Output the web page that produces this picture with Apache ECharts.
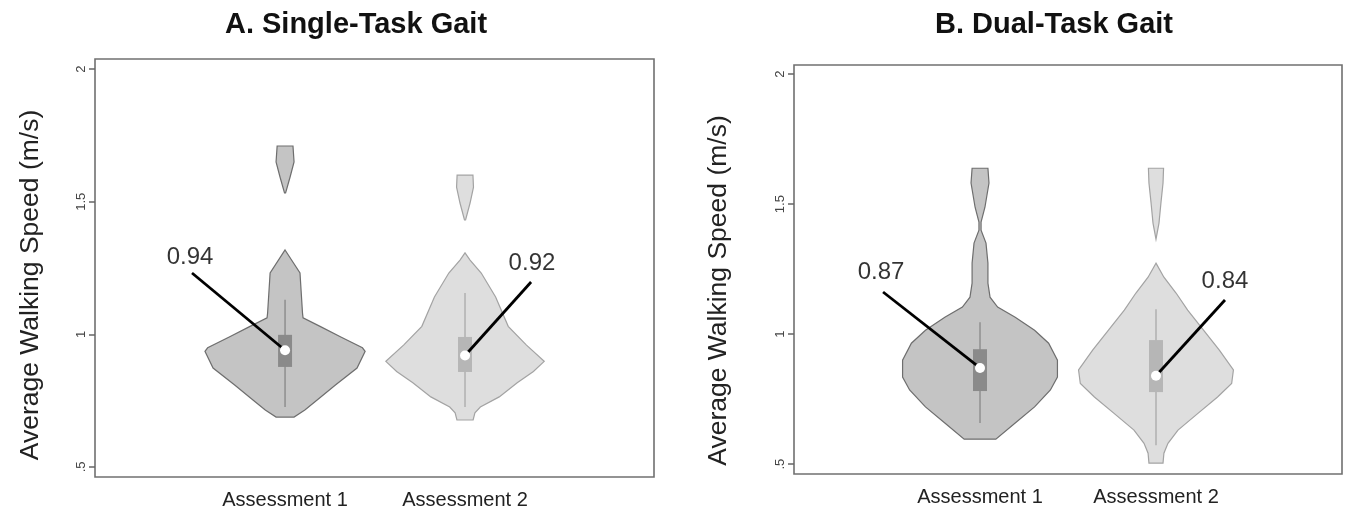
<!DOCTYPE html>
<html>
<head>
<meta charset="utf-8">
<script src="https://cdn.jsdelivr.net/npm/echarts@6/dist/echarts.min.js"></script>
<style>
  html, body { margin: 0; padding: 0; background: #fff; }
  #chart { width: 1349px; height: 512px; }
</style>
</head>
<body>
<div id="chart"></div>
<script>
// categories and panel titles
const categories = ["Assessment 1", "Assessment 2"];
const panelTitles = ["A. Single-Task Gait", "B. Dual-Task Gait"];
const yTicks = [0.5, 1, 1.5, 2];

// medians (white dots + labels)
const medianA = [0.94, 0.92];
const medianB = [0.87, 0.84];

// box: [q1, q3, whiskerLow, whiskerHigh]
const boxA = [[0.877, 0.998, 0.726, 1.13], [0.858, 0.99, 0.726, 1.156]];
const boxB = [[0.781, 0.942, 0.658, 1.046], [0.777, 0.977, 0.573, 1.096]];

// violin outlines: [speed, half width in category units], top -> bottom
const violinA1 = [
  [[1.71, 0.044], [1.65, 0.05], [1.593, 0.028], [1.533, 0.003]],
  [[1.318, 0], [1.231, 0.083], [1.08, 0.097], [1.062, 0.1], [1.028, 0.2], [0.99, 0.31],
   [0.949, 0.43], [0.936, 0.445], [0.873, 0.4], [0.809, 0.28], [0.753, 0.18], [0.715, 0.11], [0.688, 0.05]]
];
const violinA2 = [
  [[1.6, 0.044], [1.555, 0.047], [1.495, 0.028], [1.431, 0.003]],
  [[1.307, 0], [1.28, 0.028], [1.231, 0.09], [1.141, 0.17], [1.03, 0.24], [0.96, 0.34],
   [0.898, 0.44], [0.86, 0.38], [0.817, 0.29], [0.764, 0.19], [0.726, 0.085], [0.704, 0.055], [0.677, 0.045]]
];
const violinB1 = [
  [[1.638, 0.045], [1.581, 0.051], [1.488, 0.028], [1.431, 0.006], [1.4, 0.006], [1.35, 0.034],
   [1.273, 0.045], [1.196, 0.045], [1.142, 0.057], [1.104, 0.1], [1.065, 0.2], [1.015, 0.31],
   [0.965, 0.39], [0.9, 0.44], [0.835, 0.44], [0.785, 0.4], [0.72, 0.31], [0.658, 0.2], [0.596, 0.09]]
];
const violinB2 = [
  [[1.638, 0.043], [1.581, 0.04], [1.504, 0.028], [1.427, 0.017], [1.365, 0]],
  [[1.273, 0], [1.219, 0.045], [1.158, 0.114], [1.092, 0.18], [1.015, 0.27], [0.938, 0.36],
   [0.862, 0.44], [0.81, 0.43], [0.758, 0.35], [0.696, 0.24], [0.631, 0.125], [0.58, 0.068],
   [0.542, 0.045], [0.504, 0.04]]
];

// annotation placement (label anchor, leader line start) in data units
const labelAtA = [[0.472, 1.29], [2.372, 1.269]];
const leaderFromA = [[0.483, 1.231], [2.367, 1.197]];
const labelAtB = [[0.4375, 1.238], [2.392, 1.204]];
const leaderFromB = [[0.449, 1.162], [2.392, 1.131]];

const darkFill = "#c4c4c4", darkStroke = "#6e6e6e", darkBox = "#8a8a8a", darkWhisker = "#8f8f8f";
const lightFill = "#dedede", lightStroke = "#a3a3a3", lightBox = "#b6b6b6", lightWhisker = "#b0b0b0";
const font = "Liberation Sans, Arial, sans-serif";

const violinSeries = (gi, center, pieces, fill, stroke) => ({
  type: "custom",
  xAxisIndex: gi,
  yAxisIndex: gi,
  silent: true,
  z: 1,
  data: pieces.map((p) => [center, p[0][0]]),
  renderItem: (params, api) => {
    const prof = pieces[params.dataIndex];
    const right = prof.map((d) => api.coord([center + d[1], d[0]]));
    const left = prof.slice().reverse().map((d) => api.coord([center - d[1], d[0]]));
    return {
      type: "polygon",
      shape: { points: right.concat(left) },
      style: { fill: fill, stroke: stroke, lineWidth: 1.2 },
    };
  },
});

const boxSeries = (gi, boxes, fills, whiskers) => ({
  type: "custom",
  xAxisIndex: gi,
  yAxisIndex: gi,
  silent: true,
  z: 2,
  data: boxes.map((b, i) => [i + 1, b[0], b[1], b[2], b[3]]),
  renderItem: (params, api) => {
    const x = api.value(0);
    const q1 = api.coord([x, api.value(1)]);
    const q3 = api.coord([x, api.value(2)]);
    const lo = api.coord([x, api.value(3)]);
    const hi = api.coord([x, api.value(4)]);
    const i = params.dataIndex;
    return {
      type: "group",
      children: [
        {
          type: "line",
          shape: { x1: lo[0], y1: lo[1], x2: hi[0], y2: hi[1] },
          style: { stroke: whiskers[i], lineWidth: 1.5 },
        },
        {
          type: "rect",
          shape: { x: q3[0] - 7, y: q3[1], width: 14, height: q1[1] - q3[1] },
          style: { fill: fills[i] },
        },
      ],
    };
  },
});

const leaderSeries = (gi, from, medians) => ({
  type: "custom",
  xAxisIndex: gi,
  yAxisIndex: gi,
  silent: true,
  z: 3,
  data: from.map((f, i) => [f[0], f[1], i + 1, medians[i]]),
  renderItem: (params, api) => {
    const a = api.coord([api.value(0), api.value(1)]);
    const b = api.coord([api.value(2), api.value(3)]);
    return {
      type: "line",
      shape: { x1: a[0], y1: a[1], x2: b[0], y2: b[1] },
      style: { stroke: "#000", lineWidth: 2.8 },
    };
  },
});

const medianSeries = (gi, medians) => ({
  type: "scatter",
  xAxisIndex: gi,
  yAxisIndex: gi,
  silent: true,
  z: 4,
  symbolSize: 10,
  itemStyle: { color: "#fff", opacity: 1 },
  data: medians.map((m, i) => [i + 1, m]),
});

const labelSeries = (gi, at, medians) => ({
  type: "scatter",
  xAxisIndex: gi,
  yAxisIndex: gi,
  silent: true,
  z: 5,
  symbolSize: 0,
  data: at.map((p, i) => ({ value: [p[0], p[1]], name: medians[i].toFixed(2) })),
  label: {
    show: true,
    position: "inside",
    formatter: (p) => p.name,
    fontSize: 24,
    color: "#000",
    fontFamily: font,
  },
});

const grids = [
  { left: 95, top: 59, width: 559, height: 418 },
  { left: 794, top: 65, width: 548, height: 409 },
];
const xRanges = [[-0.056, 3.05], [-0.057, 3.057]];
const yRanges = [[0.462, 2.038], [0.462, 2.035]];
const nameGaps = [51, 62];
const namePads = [[0, 34, 0, 0], [0, 42, 0, 0]];

const option = {
  backgroundColor: "#fff",
  animation: false,
  title: panelTitles.map((t, i) => ({
    text: t,
    left: i === 0 ? 351 : 1049,
    top: 5,
    textAlign: "center",
    textStyle: {
      fontSize: 29,
      fontWeight: "bold",
      color: "#111",
      fontFamily: font,
    },
  })),
  grid: grids.map((g) => ({
    ...g,
    show: true,
    borderColor: "#707070",
    borderWidth: 1.6,
    backgroundColor: "transparent",
  })),
  xAxis: grids.map((g, i) => ({
    type: "value",
    gridIndex: i,
    min: xRanges[i][0],
    max: xRanges[i][1],
    axisLine: { show: false, onZero: false },
    axisTick: { show: false },
    splitLine: { show: false },
    axisLabel: {
      customValues: [1, 2],
      formatter: (v) => categories[Math.round(v) - 1] || "",
      fontSize: 20,
      color: "#222",
      margin: 13,
      fontFamily: font,
    },
  })),
  yAxis: grids.map((g, i) => ({
    type: "value",
    gridIndex: i,
    min: yRanges[i][0],
    max: yRanges[i][1],
    name: "Average Walking Speed (m/s)",
    nameLocation: "middle",
    nameGap: nameGaps[i],
    nameRotate: 90,
    nameTextStyle: {
      fontSize: 26.5,
      color: "#222",
      fontFamily: font,
      padding: namePads[i],
    },
    axisLine: { show: false, onZero: false },
    splitLine: { show: false },
    axisTick: {
      show: true,
      inside: false,
      customValues: yTicks,
      length: 6,
      lineStyle: { color: "#666", width: 1.5 },
    },
    axisLabel: {
      customValues: yTicks,
      rotate: 90,
      margin: 7,
      fontSize: 13,
      color: "#444",
      fontFamily: font,
      formatter: (v) => (v === 0.5 ? ".5" : String(v)),
    },
  })),
  series: [
    violinSeries(0, 1, violinA1, darkFill, darkStroke),
    violinSeries(0, 2, violinA2, lightFill, lightStroke),
    violinSeries(1, 1, violinB1, darkFill, darkStroke),
    violinSeries(1, 2, violinB2, lightFill, lightStroke),
    boxSeries(0, boxA, [darkBox, lightBox], [darkWhisker, lightWhisker]),
    boxSeries(1, boxB, [darkBox, lightBox], [darkWhisker, lightWhisker]),
    leaderSeries(0, leaderFromA, medianA),
    leaderSeries(1, leaderFromB, medianB),
    medianSeries(0, medianA),
    medianSeries(1, medianB),
    labelSeries(0, labelAtA, medianA),
    labelSeries(1, labelAtB, medianB),
  ],
};

const chart = echarts.init(document.getElementById("chart"), null, { renderer: "canvas" });
chart.setOption(option);
window.addEventListener("resize", () => chart.resize());
</script>
</body>
</html>
